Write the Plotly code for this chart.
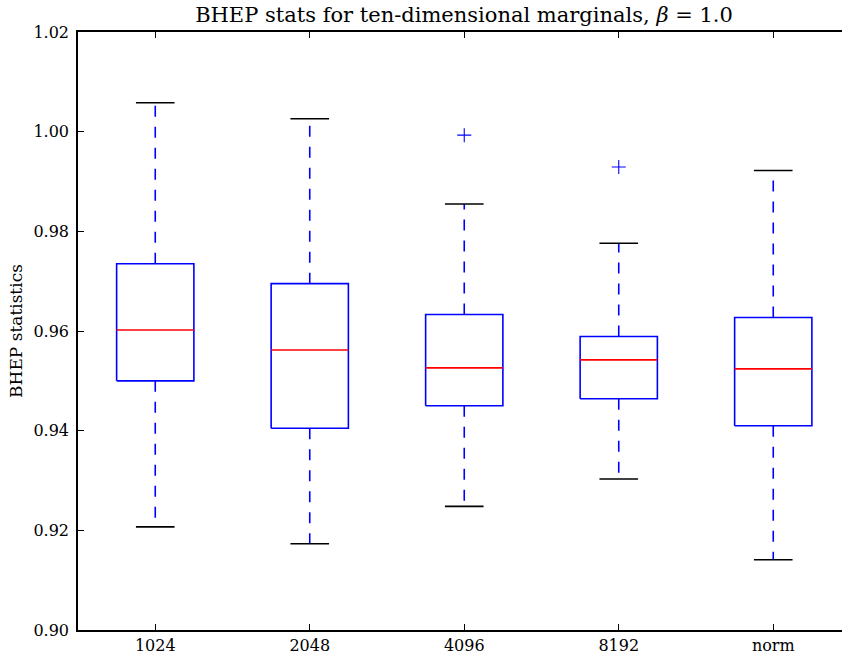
import plotly.graph_objects as go

categories = ["1024", "2048", "4096", "8192", "norm"]
positions = [1, 2, 3, 4, 5]
q1 = [0.9500, 0.9405, 0.9450, 0.9464, 0.9410]
median = [0.9602, 0.9562, 0.9526, 0.9542, 0.9524]
q3 = [0.9735, 0.9695, 0.9633, 0.9589, 0.9627]
lower_whisker = [0.9207, 0.9173, 0.9248, 0.9303, 0.9141]
upper_whisker = [1.0058, 1.0026, 0.9855, 0.9776, 0.9922]
outlier_pos = [3, 4]
outlier_val = [0.9993, 0.9929]

y_ticks = [0.90, 0.92, 0.94, 0.96, 0.98, 1.00, 1.02]
y_tick_text = ["0.90", "0.92", "0.94", "0.96", "0.98", "1.00", "1.02"]

BOX_HALF = 0.25
CAP_HALF = 0.125
BLUE = "#0000ff"
RED = "#ff0000"
FONT = "DejaVu Serif"

bx, by = [], []
mx, my = [], []
wx, wy = [], []
cx, cy = [], []
for p, a, m, b, lo, hi in zip(positions, q1, median, q3, lower_whisker, upper_whisker):
    bx += [p - BOX_HALF, p + BOX_HALF, p + BOX_HALF, p - BOX_HALF, p - BOX_HALF, None]
    by += [a, a, b, b, a, None]
    mx += [p - BOX_HALF, p + BOX_HALF, None]
    my += [m, m, None]
    wx += [p, p, None, p, p, None]
    wy += [b, hi, None, a, lo, None]
    cx += [p - CAP_HALF, p + CAP_HALF, None, p - CAP_HALF, p + CAP_HALF, None]
    cy += [hi, hi, None, lo, lo, None]

fig = go.Figure()
fig.add_trace(go.Scatter(x=wx, y=wy, mode="lines",
                         line=dict(color=BLUE, width=1.6, dash="11px,10px"),
                         hoverinfo="skip", showlegend=False))
fig.add_trace(go.Scatter(x=cx, y=cy, mode="lines",
                         line=dict(color="black", width=1.6),
                         hoverinfo="skip", showlegend=False))
fig.add_trace(go.Scatter(x=bx, y=by, mode="lines",
                         line=dict(color=BLUE, width=1.6),
                         hoverinfo="skip", showlegend=False))
fig.add_trace(go.Scatter(x=mx, y=my, mode="lines",
                         line=dict(color=RED, width=1.6),
                         hoverinfo="skip", showlegend=False))
fig.add_trace(go.Scatter(x=outlier_pos, y=outlier_val, mode="markers",
                         marker=dict(symbol="cross-thin", size=10,
                                     line=dict(color=BLUE, width=1.1)),
                         hoverinfo="skip", showlegend=False))

fig.update_layout(
    width=842, height=654,
    margin=dict(l=78, r=0, t=32, b=24, autoexpand=False),
    paper_bgcolor="white", plot_bgcolor="white",
    font=dict(family=FONT, size=16, color="black"),
    title=dict(text="BHEP stats for ten-dimensional marginals, <i>β</i> = 1.0",
               font=dict(family=FONT, size=21, color="black"),
               x=464 / 842, xanchor="center", xref="container",
               y=1 - 15 / 654, yanchor="middle", yref="container",
               automargin=False),
)
fig.update_xaxes(
    range=[0.5, 0.5 + 764 / 154.5],
    automargin=False,
    tickmode="array", tickvals=positions, ticktext=categories,
    ticks="inside", ticklen=6, tickwidth=1, tickcolor="black",
    showline=True, linecolor="black", linewidth=1.5, mirror="ticks",
    showgrid=False, zeroline=False,
    ticklabelstandoff=0,
    tickfont=dict(family=FONT, size=16, color="black"),
)
fig.update_yaxes(
    range=[0.90, 1.02],
    automargin=False,
    tickmode="array", tickvals=y_ticks, ticktext=y_tick_text,
    ticks="inside", ticklen=6, tickwidth=1, tickcolor="black",
    showline=True, linecolor="black", linewidth=1.5, mirror=False,
    showgrid=False, zeroline=False,
    ticklabelstandoff=4,
    tickfont=dict(family=FONT, size=16, color="black"),
    title=dict(text="BHEP statistics", font=dict(family=FONT, size=17, color="black"),
               standoff=6),
)

fig.write_html(
    "out.html",
    config={"displayModeBar": False},
    post_script="document.body.style.margin='0';document.body.style.overflow='hidden';",
)
